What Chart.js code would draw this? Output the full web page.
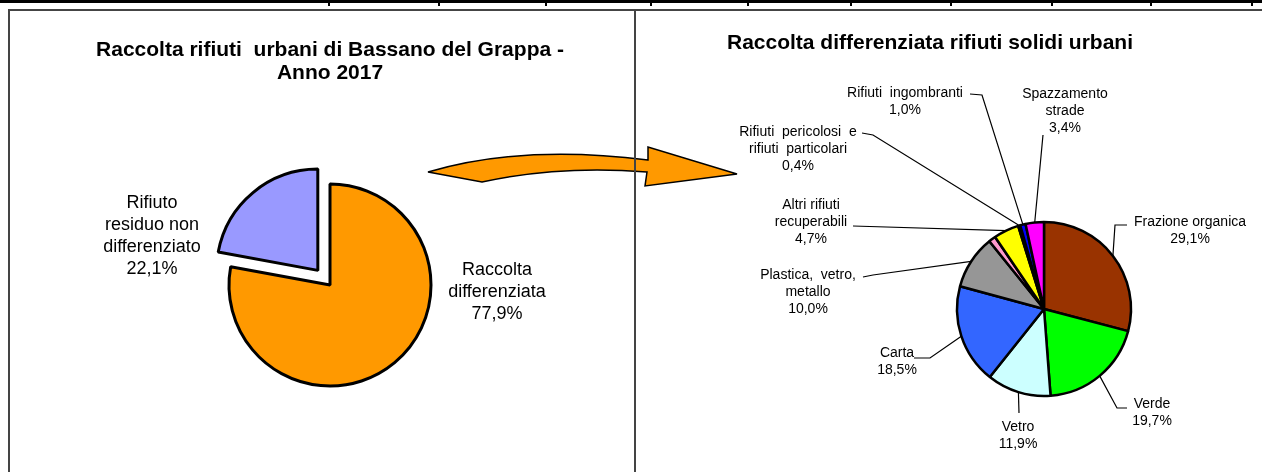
<!DOCTYPE html>
<html><head><meta charset="utf-8">
<script src="https://cdn.jsdelivr.net/npm/chart.js@4/dist/chart.umd.min.js"></script>
<style>
html,body{margin:0;padding:0;background:#fff;}
body{width:1262px;height:472px;position:relative;overflow:hidden;}
.box{position:absolute;}
</style></head><body>
<div class="box" style="left:0;top:0;width:1262px;height:3px;background:#000"></div>
<div id="ticks"></div>
<div class="box" style="left:8px;top:9px;width:1254px;height:2px;background:#444"></div>
<div class="box" style="left:8px;top:9px;width:2px;height:463px;background:#444"></div>
<div class="box" style="left:10px;top:11px;width:624px;height:461px"><canvas id="leftChart" width="624" height="461"></canvas></div>
<div class="box" style="left:637px;top:11px;width:625px;height:461px"><canvas id="rightChart" width="625" height="461"></canvas></div>
<svg class="box" style="left:0;top:0" width="1262" height="472">
  <path d="M428,172 Q522,144 648,160 L648,147 L737,174 L645,186 L647,172 Q560,165 482,182 Z" fill="#FF9900" stroke="#000" stroke-width="1.5" stroke-linejoin="miter"/>
</svg>
<div class="box" style="left:634px;top:9px;width:2px;height:463px;background:#444"></div>
<script>
// ---- data: left chart ----
const mainCategories = ["Raccolta differenziata", "Rifiuto residuo non differenziato"];
const mainValues = [77.9, 22.1];
const mainColors = ["#FF9900", "#9999FF"];
const mainTitle = ["Raccolta rifiuti  urbani di Bassano del Grappa -", "Anno 2017"];

// ---- data: right chart ----
const sepCategories = ["Frazione organica", "Verde", "Vetro", "Carta", "Plastica, vetro, metallo",
  "Altro", "Altri rifiuti recuperabili", "Rifiuti pericolosi e rifiuti particolari",
  "Rifiuti ingombranti", "Spazzamento strade"];
const sepValues = [29.1, 19.7, 11.9, 18.5, 10.0, 1.3, 4.7, 0.4, 1.0, 3.4];
const sepColors = ["#993300", "#00FF00", "#CCFFFF", "#3366FF", "#969696",
  "#FF99CC", "#FFFF00", "#000080", "#0000FF", "#FF00FF"];
const sepTitle = "Raccolta differenziata rifiuti solidi urbani";

// ---- layout (page coordinates) ----
const tickXs = [328, 438, 545, 650, 747, 850, 950, 1051, 1150, 1251];
tickXs.forEach(x => {
  const d = document.createElement('div');
  d.className = 'box';
  d.style.cssText = `left:${x}px;top:3px;width:2px;height:3px;background:#000`;
  document.getElementById('ticks').appendChild(d);
});

const FONT = '"Liberation Sans", Arial, sans-serif';
const fmtPct = v => v.toFixed(1).replace('.', ',') + '%';

const mainLabelLayout = [
  {lines: ["Raccolta", "differenziata"], x: 497, y: 270},
  {lines: ["Rifiuto", "residuo non", "differenziato"], x: 152, y: 203}
];
const sepLabelLayout = [
  {lines: ["Frazione organica"], x: 1190, y: 222, path: [[1115, 225], [1127, 225]]},
  {lines: ["Verde"], x: 1152, y: 404, path: [[1117, 408], [1127, 408]]},
  {lines: ["Vetro"], x: 1018, y: 427, path: [[1019, 413]]},
  {lines: ["Carta"], x: 897, y: 353, path: [[930, 358], [914, 358]]},
  {lines: ["Plastica,  vetro,", "metallo"], x: 808, y: 275, path: [[873, 275], [863, 277]]},
  null,
  {lines: ["Altri rifiuti", "recuperabili"], x: 811, y: 205, path: [[853, 226]]},
  {lines: ["Rifiuti  pericolosi  e", "rifiuti  particolari"], x: 798, y: 132, path: [[873, 135], [862, 133]]},
  {lines: ["Rifiuti  ingombranti"], x: 905, y: 93, path: [[982, 95], [970, 94]]},
  {lines: ["Spazzamento", "strade"], x: 1065, y: 94, path: [[1043, 135]]}
];

function labelPlugin(opts) {
  return {
    id: 'sliceLabels_' + opts.name,
    afterDatasetsDraw(chart) {
      const ctx = chart.ctx;
      const meta = chart.getDatasetMeta(0);
      const vals = chart.data.datasets[0].data;
      const ox = opts.ox, oy = opts.oy;
      ctx.save();
      ctx.fillStyle = '#000';
      ctx.textAlign = 'center';
      ctx.textBaseline = 'middle';
      ctx.font = 'bold ' + opts.titleSize + 'px ' + FONT;
      opts.title.forEach((t, k) => ctx.fillText(t, opts.titleX - ox, opts.titleY - oy + k * opts.titleLH));
      ctx.font = opts.fontSize + 'px ' + FONT;
      opts.layout.forEach((L, i) => {
        if (!L) return;
        const arc = meta.data[i];
        const lines = [...L.lines, fmtPct(vals[i])];
        lines.forEach((t, k) => ctx.fillText(t, L.x - ox, L.y - oy + k * opts.lineH));
        if (L.path) {
          const mid = (arc.startAngle + arc.endAngle) / 2;
          const r = arc.outerRadius;
          ctx.beginPath();
          ctx.moveTo(arc.x + r * Math.cos(mid), arc.y + r * Math.sin(mid));
          L.path.forEach(p => ctx.lineTo(p[0] - ox, p[1] - oy));
          ctx.lineWidth = 1.2;
          ctx.strokeStyle = '#000';
          ctx.stroke();
        }
      });
      ctx.restore();
    }
  };
}

Chart.defaults.font.family = FONT;

new Chart(document.getElementById('leftChart'), {
  type: 'pie',
  data: {
    labels: mainCategories,
    datasets: [{
      data: mainValues,
      backgroundColor: mainColors,
      borderColor: '#000',
      borderWidth: 3,
      offset: [0, 76],
      clip: false
    }]
  },
  options: {
    responsive: false,
    animation: false,
    events: [],
    radius: 101,
    layout: {padding: {left: 16, right: 0, top: 87, bottom: 0}},
    plugins: {legend: {display: false}, tooltip: {enabled: false}, title: {display: false}}
  },
  plugins: [labelPlugin({name: 'main', ox: 10, oy: 11, layout: mainLabelLayout, fontSize: 18, lineH: 22,
    title: mainTitle, titleX: 330, titleY: 50, titleLH: 23, titleSize: 21})]
});

new Chart(document.getElementById('rightChart'), {
  type: 'pie',
  data: {
    labels: sepCategories,
    datasets: [{
      data: sepValues,
      backgroundColor: sepColors,
      borderColor: '#000',
      borderWidth: 2.5,
      clip: false
    }]
  },
  options: {
    responsive: false,
    animation: false,
    events: [],
    radius: 87,
    layout: {padding: {left: 189, right: 0, top: 135, bottom: 0}},
    plugins: {legend: {display: false}, tooltip: {enabled: false}, title: {display: false}}
  },
  plugins: [labelPlugin({name: 'sep', ox: 637, oy: 11, layout: sepLabelLayout, fontSize: 14, lineH: 17,
    title: [sepTitle], titleX: 930, titleY: 43, titleLH: 23, titleSize: 21})]
});
</script>
</body></html>
